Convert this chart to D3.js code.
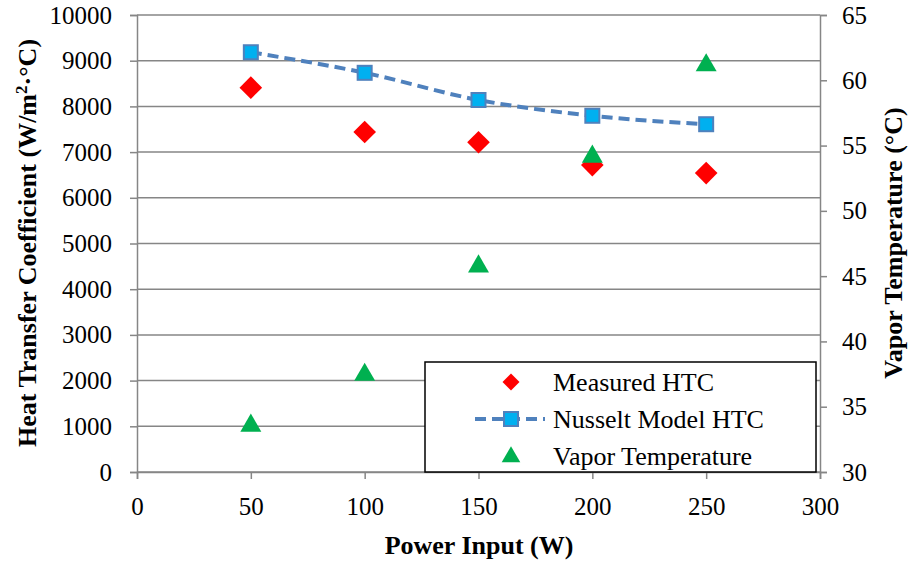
<!DOCTYPE html>
<html>
<head>
<meta charset="utf-8">
<script src="https://d3js.org/d3.v7.min.js"></script>
<style>
  body { margin: 0; background: #fff; }
  svg text { font-family: "Liberation Serif", "DejaVu Serif", serif; fill: #000; }
</style>
</head>
<body>
<div id="chart"></div>
<script>
// data
var power = [50, 100, 150, 200, 250];
var measuredHTC = [8410, 7440, 7215, 6715, 6540];
var nusseltHTC = [9185, 8735, 8140, 7795, 7610];
var vaporTemp = [33.7, 37.6, 45.9, 54.3, 61.3];
var xTicks = [0, 50, 100, 150, 200, 250, 300];
var leftTicks = d3.range(0, 10001, 1000);
var rightTicks = d3.range(30, 66, 5);
var legendNames = ["Measured HTC", "Nusselt Model HTC", "Vapor Temperature"];

var W = 911, H = 561;
var serif = "Liberation Serif";
var svg = d3.select("#chart").append("svg").attr("width", W).attr("height", H)
  .attr("font-family", serif);

var x = d3.scaleLinear().domain([0, 300]).range([137, 820]);
var yL = d3.scaleLinear().domain([0, 10000]).range([472, 15]);
var yR = d3.scaleLinear().domain([30, 65]).range([472, 15]);

var grey = "#868686";

// horizontal gridlines
svg.append("g").selectAll("line").data(leftTicks).enter().append("line")
  .attr("x1", x(0)).attr("x2", x(300))
  .attr("y1", function (d) { return yL(d); }).attr("y2", function (d) { return yL(d); })
  .attr("stroke", grey).attr("stroke-width", 1.5);

// axes
var fmt = d3.format("d");
var axL = svg.append("g").attr("transform", "translate(" + x(0) + ",0)")
  .call(d3.axisLeft(yL).tickValues(leftTicks).tickFormat(fmt).tickSize(7).tickPadding(18));
var axR = svg.append("g").attr("transform", "translate(" + x(300) + ",0)")
  .call(d3.axisRight(yR).tickValues(rightTicks).tickFormat(fmt).tickSize(7).tickPadding(15));
var axB = svg.append("g").attr("transform", "translate(0," + yL(0) + ")")
  .call(d3.axisBottom(x).tickValues(xTicks).tickFormat(fmt).tickSize(7).tickPadding(13));

[axL, axR, axB].forEach(function (a) {
  a.attr("font-family", serif).attr("font-size", 25);
  a.selectAll("path").attr("stroke", grey).attr("stroke-width", 1.5);
  a.selectAll("line").attr("stroke", grey).attr("stroke-width", 1.5);
  a.selectAll("text").attr("font-family", serif).attr("font-size", 25).attr("fill", "#000");
});
axB.selectAll("text").attr("dy", "0.9em");

// axis titles
svg.append("text")
  .attr("transform", "translate(27,243) rotate(-90)")
  .attr("text-anchor", "middle").attr("dy", "0.35em")
  .attr("font-size", 26).attr("font-weight", "bold")
  .html("Heat Transfer Coefficient (W/m<tspan dy='-9' font-size='17'>2</tspan><tspan dy='9'>·°C)</tspan>");

svg.append("text")
  .attr("transform", "translate(893,243) rotate(-90)")
  .attr("text-anchor", "middle").attr("dy", "0.35em")
  .attr("font-size", 26).attr("font-weight", "bold")
  .text("Vapor Temperature (°C)");

svg.append("text")
  .attr("x", 479).attr("y", 554)
  .attr("text-anchor", "middle")
  .attr("font-size", 26).attr("font-weight", "bold")
  .text("Power Input (W)");

// series
var diamond = d3.symbol().type(d3.symbolSquare).size(16 * 16);
var tri = d3.symbol().type(d3.symbolTriangle).size(190);

// measured HTC
svg.append("g").selectAll("path").data(power).enter().append("path")
  .attr("d", diamond)
  .attr("transform", function (d, i) { return "translate(" + x(d) + "," + yL(measuredHTC[i]) + ") rotate(45)"; })
  .attr("fill", "#ff0000");

// nusselt line
var line = d3.line()
  .x(function (d, i) { return x(power[i]); })
  .y(function (d) { return yL(d); })
  .curve(d3.curveMonotoneX);
svg.append("path").datum(nusseltHTC)
  .attr("d", line)
  .attr("fill", "none").attr("stroke", "#4f81bd")
  .attr("stroke-width", 4).attr("stroke-dasharray", "11,6");
svg.append("g").selectAll("rect").data(power).enter().append("rect")
  .attr("x", function (d) { return x(d) - 7; })
  .attr("y", function (d, i) { return yL(nusseltHTC[i]) - 7; })
  .attr("width", 14).attr("height", 14)
  .attr("fill", "#00b0f0").attr("stroke", "#4f81bd").attr("stroke-width", 2);

// vapor temperature
svg.append("g").selectAll("path").data(power).enter().append("path")
  .attr("d", tri)
  .attr("transform", function (d, i) { return "translate(" + x(d) + "," + (yR(vaporTemp[i]) + 2) + ")"; })
  .attr("fill", "#00b050");

// legend
var lg = svg.append("g");
lg.append("rect").attr("x", 425).attr("y", 362).attr("width", 391).attr("height", 110)
  .attr("fill", "#fff").attr("stroke", "#000").attr("stroke-width", 1.5);
var rowY = [382, 419, 456];
lg.append("path").attr("d", d3.symbol().type(d3.symbolSquare).size(12 * 12))
  .attr("transform", "translate(511," + rowY[0] + ") rotate(45)").attr("fill", "#ff0000");
lg.append("line").attr("x1", 475).attr("x2", 545).attr("y1", rowY[1]).attr("y2", rowY[1])
  .attr("stroke", "#4f81bd").attr("stroke-width", 4).attr("stroke-dasharray", "11,6");
lg.append("rect").attr("x", 504).attr("y", rowY[1] - 7).attr("width", 14).attr("height", 14)
  .attr("fill", "#00b0f0").attr("stroke", "#4f81bd").attr("stroke-width", 2);
lg.append("path").attr("d", d3.symbol().type(d3.symbolTriangle).size(150))
  .attr("transform", "translate(511," + (rowY[2] + 1) + ")").attr("fill", "#00b050");
lg.selectAll("text.lab").data(legendNames).enter().append("text")
  .attr("x", 553).attr("y", function (d, i) { return rowY[i]; })
  .attr("dy", "0.35em")
  .attr("font-size", 26)
  .text(function (d) { return d; });
</script>
</body>
</html>
